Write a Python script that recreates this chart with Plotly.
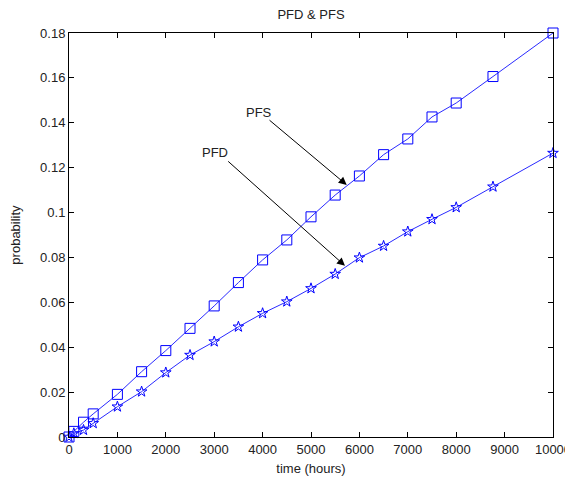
import plotly.graph_objects as go

hours_pfs = [0, 100, 300, 500, 1000, 1500, 2000, 2500, 3000, 3500, 4000, 4500, 5000, 5500, 6000, 6500, 7000, 7500, 8000, 8760, 10000]
pfs = [0, 0.0025, 0.0066, 0.0103, 0.019, 0.0291, 0.0385, 0.0484, 0.0584, 0.0688, 0.0789, 0.0878, 0.0981, 0.1078, 0.1163, 0.1258, 0.1328, 0.1426, 0.1488, 0.1606, 0.18]

hours_pfd = [0, 100, 300, 500, 1000, 1500, 2000, 2500, 3000, 3500, 4000, 4500, 5000, 5500, 6000, 6500, 7000, 7500, 8000, 8760, 10000]
pfd = [0, 0.0016, 0.0031, 0.0061, 0.0135, 0.0202, 0.0287, 0.0365, 0.0425, 0.0491, 0.0551, 0.0603, 0.0662, 0.0726, 0.0799, 0.0851, 0.0915, 0.097, 0.1023, 0.1115, 0.1265]

x_ticks = [0, 1000, 2000, 3000, 4000, 5000, 6000, 7000, 8000, 9000, 10000]
y_ticks = [0, 0.02, 0.04, 0.06, 0.08, 0.1, 0.12, 0.14, 0.16, 0.18]
y_labels = ["0", "0.02", "0.04", "0.06", "0.08", "0.1", "0.12", "0.14", "0.16", "0.18"]

blue = "#2a2aff"
font = "Liberation Sans, Arial, sans-serif"
fsize = 13

fig = go.Figure()
fig.add_trace(go.Scatter(x=hours_pfs, y=pfs, mode="lines+markers", name="PFS",
                         line=dict(color=blue, width=1),
                         marker=dict(symbol="square-open", size=10, color="#0000ff", line=dict(width=1)),
                         cliponaxis=False))
fig.add_trace(go.Scatter(x=hours_pfd, y=pfd, mode="lines+markers", name="PFD",
                         line=dict(color=blue, width=1),
                         marker=dict(symbol="star-open", size=8, color="#0000ff", line=dict(width=1)),
                         cliponaxis=False))

axis_common = dict(showline=True, linecolor="black", linewidth=1, mirror="ticks",
                   ticks="inside", ticklen=5, tickcolor="black", showgrid=False,
                   zeroline=False, automargin=False,
                   tickfont=dict(family=font, size=fsize, color="#222"))

# page body adds an 8px offset, so the figure is sized to fit the window
fig.update_layout(
    width=565, height=474,
    margin=dict(l=61, r=20, t=25, b=45),
    paper_bgcolor="white", plot_bgcolor="white",
    showlegend=False,
    font=dict(family=font, size=fsize, color="#222"),
    title=dict(text="PFD & PFS", x=0.5, xref="paper", y=1 - 6.5 / 474, yanchor="middle",
               font=dict(family=font, size=fsize, color="#222")),
    xaxis=dict(range=[0, 10000], tickvals=x_ticks, ticktext=[str(v) for v in x_ticks],
               title=dict(text="time (hours)", standoff=8, font=dict(family=font, size=fsize)),
               **axis_common),
    yaxis=dict(range=[0, 0.18], tickvals=y_ticks, ticktext=y_labels,
               title=dict(text="probability", standoff=16, font=dict(family=font, size=fsize)),
               **axis_common),
)

# arrows
fig.add_annotation(x=5738, y=0.1123, ax=4112, ay=0.1417, xref="x", yref="y", axref="x", ayref="y",
                   text="", showarrow=True, arrowhead=2, arrowsize=1.6, arrowwidth=1, arrowcolor="black")
fig.add_annotation(x=5702, y=0.0763, ax=3258, ay=0.1234, xref="x", yref="y", axref="x", ayref="y",
                   text="", showarrow=True, arrowhead=2, arrowsize=1.6, arrowwidth=1, arrowcolor="black")
fig.add_annotation(x=3926, y=0.1444, xref="x", yref="y", text="PFS", showarrow=False,
                   font=dict(family=font, size=fsize, color="#222"))
fig.add_annotation(x=3017, y=0.1267, xref="x", yref="y", text="PFD", showarrow=False,
                   font=dict(family=font, size=fsize, color="#222"))

fig.write_html("out.html")
